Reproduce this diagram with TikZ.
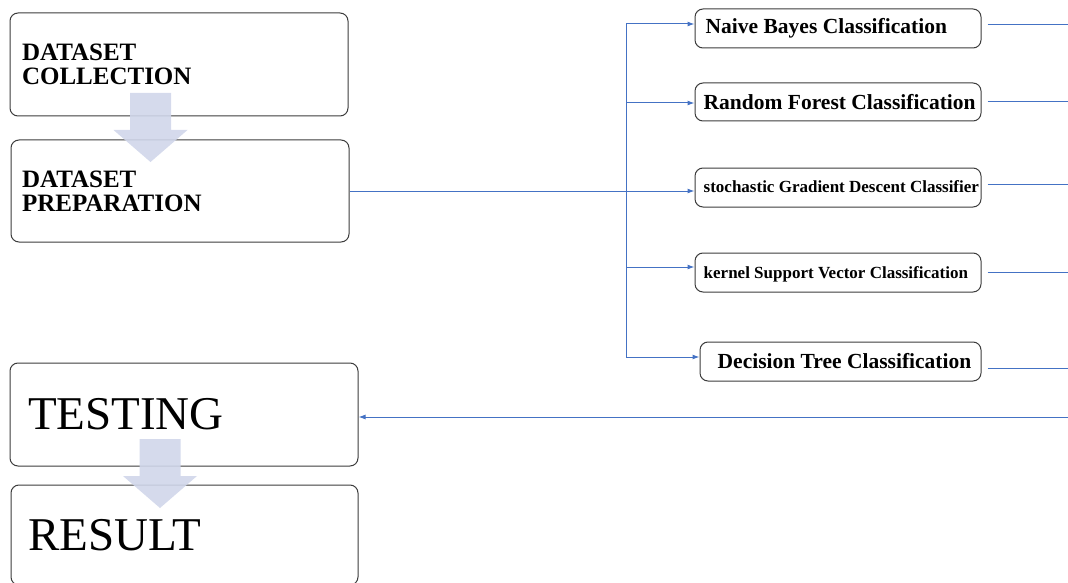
\documentclass[tikz,border=0pt]{standalone}
\usepackage{fontspec}
\setmainfont{Liberation Serif}
\usepackage{tikz}
\usetikzlibrary{arrows.meta,positioning}
\usepackage{xcolor}
\definecolor{flowblue}{HTML}{4472C4}
\definecolor{stepfill}{HTML}{D0D6EA}
\definecolor{boxgray}{HTML}{3C3C3C}

\begin{document}
\begin{tikzpicture} [
      x = 1pt, y = -1pt,
      >= {Latex[length = 7pt, width = 5pt]},
      stage/.style = { draw = boxgray, line width = 1pt, rounded corners = 8pt, align = left },
      boldstage/.style = { stage, font = \bfseries\fontsize{25}{24}\selectfont },
      bigstage/.style = { stage, font = \fontsize{47}{47}\selectfont },
      model/.style = { stage, minimum width = 286pt, minimum height = 39pt },
      modeltext/.style = { inner sep = 0, font = \bfseries\fontsize{21.5}{22}\selectfont },
      smalltext/.style = { modeltext, font = \bfseries\fontsize{17}{18}\selectfont },
      flow/.style = { draw = flowblue, line width = 1pt },
      blockarrow/.style = { fill = stepfill, opacity = 0.9 }
      ]
  \useasboundingbox (0,0) rectangle (1068,583);

  % left column
  \node [boldstage, inner xsep = 12pt, text width = 314pt, minimum height = 103pt] (collect) at (179,64.5) {DATASET\\COLLECTION};
  \node [boldstage, inner xsep = 11pt, text width = 316pt, minimum height = 102pt] (prep) at (180,191) {DATASET\\PREPARATION};
  \node [bigstage, inner xsep = 18pt, text width = 312pt, minimum height = 103pt] (test) at (184,414.5) {TESTING};
  \node [bigstage, inner xsep = 17pt, text width = 313pt, minimum height = 100pt] (result) at (184.5,535) {RESULT};

  \foreach \cx/\ty in {150.5/93, 160/439}
    \fill [blockarrow] (\cx-20.5,\ty) -- ++(41,0) -- ++(0,37) -- ++(16.5,0) -- (\cx,\ty+69)
      -- (\cx-37,\ty+37) -- ++(16.5,0) -- cycle;

  % classifiers
  \node [model] (nb) at (838,28.5) {};
  \node [model, minimum height = 38pt] (rf) at (838,102) {};
  \node [model] (sgd) at (838,187.5) {};
  \node [model] (ksv) at (838,272.5) {};
  \node [model, minimum width = 281pt] (dt) at (840.5,361.5) {};

  \node [modeltext, right = 11pt of nb.west] (nb-text) {Naive Bayes Classification};
  \node [modeltext, right = 9pt of rf.west] (rf-text) {Random Forest Classification};
  \node [smalltext, right = 9pt of sgd.west, yshift = 1pt] (sgd-text) {stochastic Gradient Descent Classifier};
  \node [smalltext, right = 9pt of ksv.west, yshift = -2pt] (ksv-text) {kernel Support Vector Classification};
  \node [modeltext, right = 18pt of dt.west] (dt-text) {Decision Tree Classification};

  \coordinate (in-nb) at (626,24);
  \coordinate (in-rf) at (626,103);
  \coordinate (in-ksv) at (626,267);
  \coordinate (in-dt) at (626,357);
  \draw [flow] (in-nb) -- (in-dt);
  \foreach \m in {nb, rf, ksv, dt}
    \draw [flow, ->] (in-\m) -- (in-\m -| \m.west);
  \draw [flow, ->] (prep.east) -- (prep.east -| sgd.west);

  % outputs
  \coordinate (out-nb) at (1068,25);
  \coordinate (out-rf) at (1068,102);
  \coordinate (out-sgd) at (1068,184);
  \coordinate (out-ksv) at (1068,272);
  \coordinate (out-dt) at (1068,368);
  \foreach \m in {nb, rf, sgd, ksv, dt}
    \draw [flow, shorten <= 6pt] (out-\m -| \m.east) -- (out-\m);
  \coordinate (back) at (1068,417);
  \draw [flow, ->] (back) -- (back -| test.east);
\end{tikzpicture}
\end{document}
